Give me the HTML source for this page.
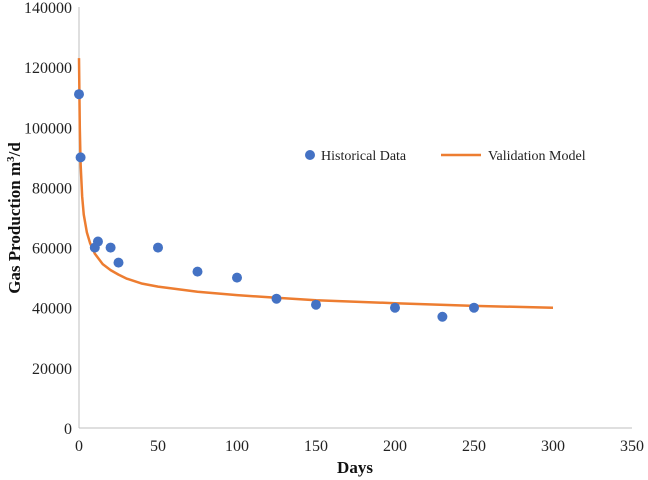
<!DOCTYPE html>
<html><head><meta charset="utf-8"><style>
body{margin:0;background:#fff}
svg{display:block;font-family:"Liberation Serif",serif}
</style></head><body>
<svg id="c" width="648" height="480"></svg>
<script>
const xTicks=[0,50,100,150,200,250,300,350];
const yTicks=[0,20000,40000,60000,80000,100000,120000,140000];
const histDays=[0,1,10,12,20,25,50,75,100,125,150,200,230,250];
const histGas=[111000,90000,60000,62000,60000,55000,60000,52000,50000,43000,41000,40000,37000,40000];
const modelDays=[0,0.5,1,2,3,5,7,10,15,20,25,30,40,50,75,100,125,150,200,250,300];
const modelGas=[123000,100000,88000,77000,71000,65000,61500,58000,54500,52500,51000,49700,48000,47000,45300,44200,43300,42500,41500,40600,40000];
const X=v=>79+v*(632-79)/350, Y=v=>428-v*(428-7)/140000;
const s=document.getElementById('c'),NS='http://www.w3.org/2000/svg';
function mk(t,a,txt){const e=document.createElementNS(NS,t);for(const k in a)e.setAttribute(k,a[k]);if(txt!==undefined)e.textContent=txt;s.appendChild(e);return e;}
let e;
e=mk('line',{x1:79,y1:Y(0),x2:632,y2:Y(0),stroke:'#bfbfbf','stroke-width':1});


e=mk('line',{x1:79,y1:Y(0),x2:79,y2:Y(140000),stroke:'#bfbfbf','stroke-width':1});


xTicks.forEach(t=>{e=mk('text',{x:X(t),y:451,'text-anchor':'middle','font-size':16,fill:'#222'},t);

});
yTicks.forEach(t=>{e=mk('text',{x:72,y:Y(t)+6,'text-anchor':'end','font-size':16,fill:'#222'},t);

});
e=mk('polyline',{points:modelDays.map((d,i)=>X(d)+','+Y(modelGas[i])).join(' '),fill:'none',stroke:'#ed7d31','stroke-width':2.5,'stroke-linejoin':'round'});


histDays.forEach((d,i)=>{e=mk('circle',{cx:X(d),cy:Y(histGas[i]),r:5,fill:'#4472c4'});

});
e=mk('circle',{cx:310,cy:155,r:5,fill:'#4472c4'});


e=mk('text',{x:321,y:160,'font-size':14,fill:'#222'},'Historical Data');


e=mk('line',{x1:441,y1:155,x2:481,y2:155,stroke:'#ed7d31','stroke-width':2.5});


e=mk('text',{x:488,y:160,'font-size':14,fill:'#222'},'Validation Model');


e=mk('text',{x:355,y:473,'text-anchor':'middle','font-size':17,'font-weight':'bold',fill:'#111'},'Days');


e=mk('text',{x:0,y:0,transform:'translate(20,218) rotate(-90)','text-anchor':'middle','font-size':17,'font-weight':'bold',fill:'#111'});
e.innerHTML='Gas Production m<tspan dy="-6" font-size="11">3</tspan><tspan dy="6">/d</tspan>';


</script>
</body></html>
